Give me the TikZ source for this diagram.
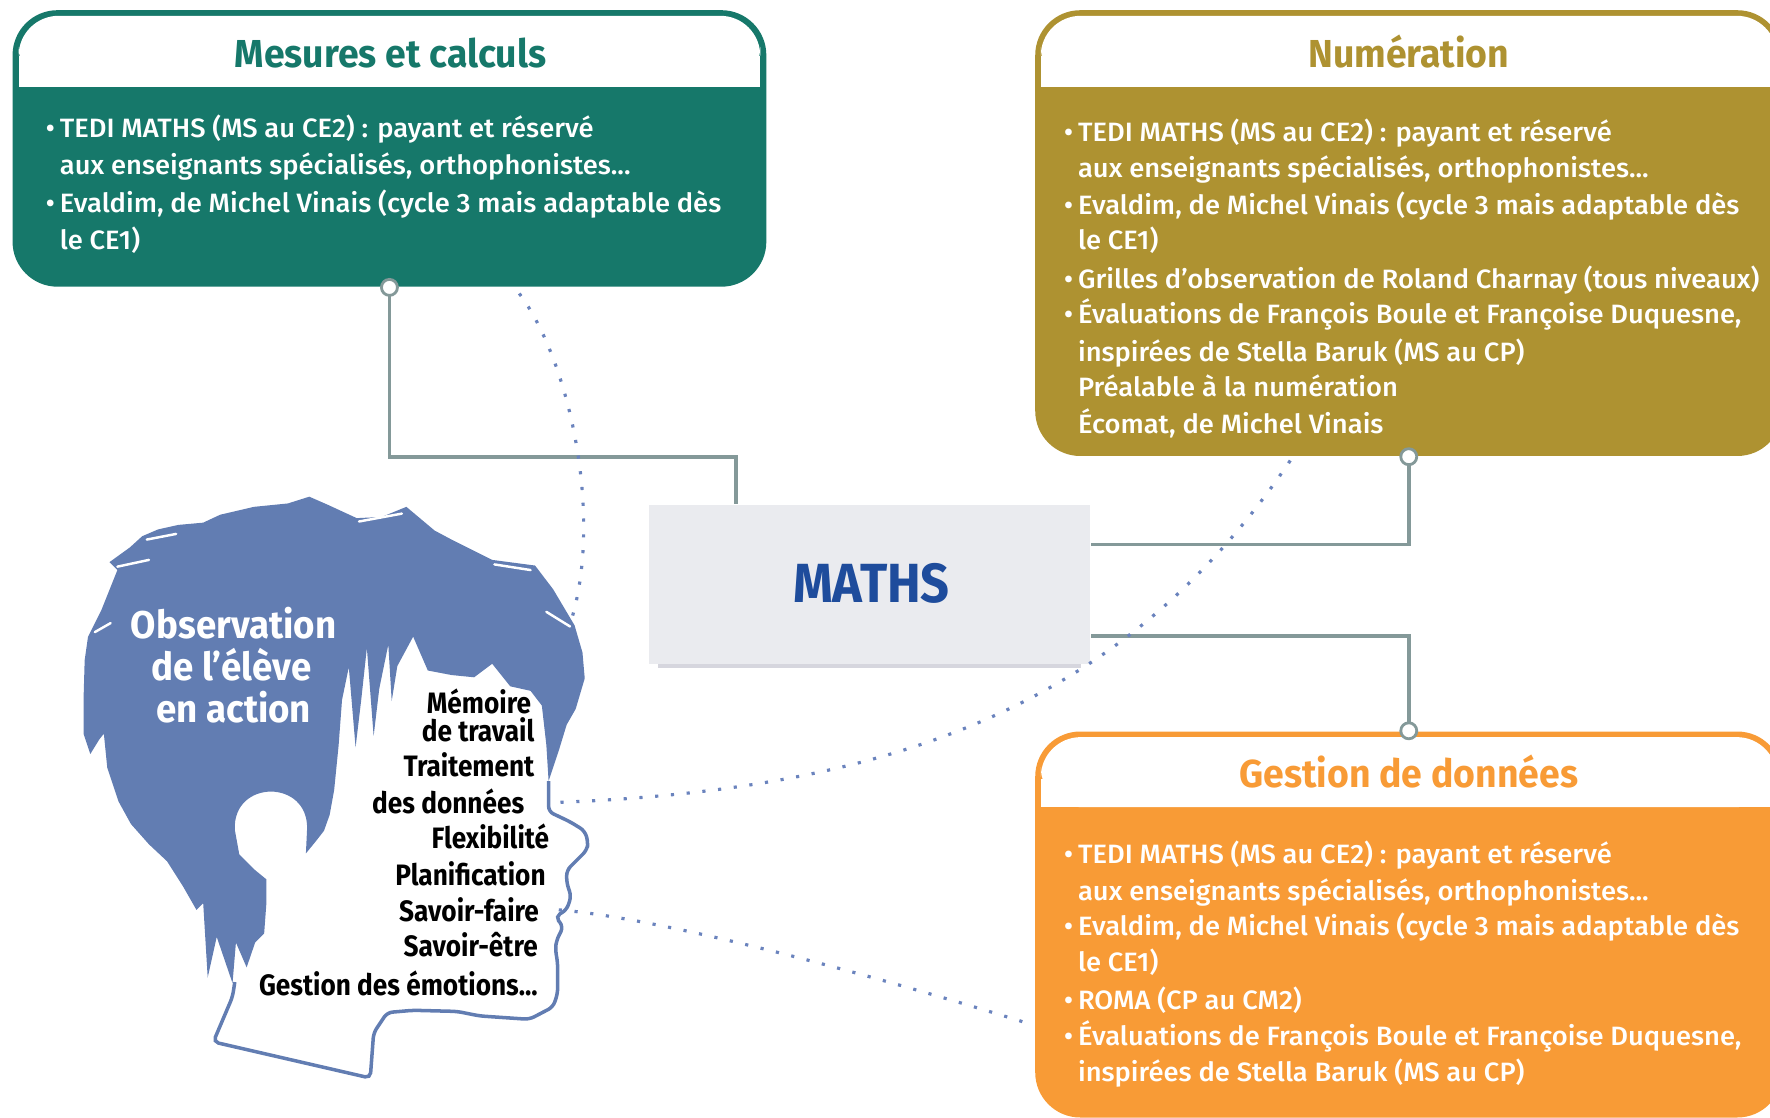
\documentclass[tikz,border=0pt]{standalone}
\usepackage{fontspec}
\setmainfont{Fira Sans}
\IfFontExistsTF{Fira Sans Medium}{\newfontfamily\medfnt{Fira Sans Medium}}{\newcommand\medfnt{}}
\usepackage{graphicx}
\usetikzlibrary{calc}
\definecolor{mgreen}{HTML}{16786A}
\definecolor{molive}{HTML}{AE9231}
\definecolor{morange}{HTML}{F89B36}
\definecolor{hblue}{HTML}{627DB2}
\definecolor{dblue}{HTML}{6A83BD}
\definecolor{cgray}{HTML}{849999}
\definecolor{mbg}{HTML}{EAEBEF}
\definecolor{mtxt}{HTML}{1E4C9C}
\definecolor{mshadow}{HTML}{D6D6DE}
\newlength\reflen
\newcommand\bodyfnt{\medfnt\fontsize{7.55}{9}\selectfont}
\newcommand\titlefnt{\fontsize{11.1}{13}\selectfont\bfseries}
\newcommand\mathsfnt{\fontsize{15.7}{18}\selectfont\bfseries}
\newcommand\obsfnt{\fontsize{11}{13}\selectfont\bfseries}
\newcommand\facefnt{\fontsize{8.4}{10}\selectfont\bfseries}
\newcommand\bi[1]{\makebox[0.14cm][l]{\textbullet}\scalebox{\bsc}[1]{#1}}
\newcommand\bc[1]{\hspace*{0.14cm}\scalebox{\bsc}[1]{#1}}
\begin{document}
\settowidth\reflen{\bodyfnt TEDI MATHS (MS au CE2) : payant et réservé}%
\pgfmathsetmacro\bsc{5.34cm/\reflen}%
\settowidth\reflen{\titlefnt Mesures et calculs}%
\pgfmathsetmacro\tsc{3.115cm/\reflen}%
\settowidth\reflen{\mathsfnt MATHS}%
\pgfmathsetmacro\msc{1.569cm/\reflen}%
\settowidth\reflen{\obsfnt Observation}%
\pgfmathsetmacro\osc{2.054cm/\reflen}%
\settowidth\reflen{\facefnt Gestion des émotions...}%
\pgfmathsetmacro\fsc{2.788cm/\reflen}%
\begin{tikzpicture}[x=0.011288cm,y=-0.011288cm,
 conn/.style={draw=cgray,line width=1pt},
 pinc/.style={circle,draw=cgray,fill=white,line width=0.8pt,minimum size=0.16cm,inner sep=0pt},
 dotline/.style={draw=dblue,line width=0.9pt,dash pattern=on 0.9pt off 3.6pt},
 blinestyle/.style={anchor=base west,inner sep=0pt,text=white,font=\bodyfnt},
 ttlstyle/.style={anchor=base,inner sep=0pt,font=\titlefnt},
 facetxt/.style={anchor=base east,inner sep=0pt,text=black,font=\facefnt},
 obstxt/.style={anchor=base,inner sep=0pt,text=white,font=\obsfnt},
 streak/.style={draw=white,line width=0.7pt,line cap=round},
 bigbox/.style={rectangle,rounded corners=0.45cm,inner sep=0pt}]
\useasboundingbox (0,0) rectangle (1568,990.4);

% central box
\fill[mshadow] (583,586) rectangle (958,592);
\node[rectangle,fill=mbg,minimum width=4.414cm,minimum height=1.592cm,inner sep=0pt] (maths) at (770.5,517.5) {};
\node[anchor=base,inner sep=0pt,text=mtxt,font=\mathsfnt] (mathst) at (772,534) {\scalebox{\msc}[1]{MATHS}};

% boxes
\node[bigbox,fill=mgreen,minimum width=7.540cm,minimum height=2.766cm] (mes) at (345,131.5) {};
\fill[white,rounded corners=0.4cm] (16.5,14) rectangle (673.5,77);
\fill[white] (16.5,50) rectangle (673.5,77);
\node[bigbox,fill=molive,minimum width=7.473cm,minimum height=4.459cm] (num) at (1248,206.5) {};
\fill[white,rounded corners=0.4cm] (922,14) rectangle (1574,77);
\fill[white] (922,50) rectangle (1574,77);
\node[bigbox,fill=morange,minimum width=7.473cm,minimum height=3.861cm] (ges) at (1248,819) {};
\fill[white,rounded corners=0.4cm] (922,653) rectangle (1574,715);
\fill[white] (922,690) rectangle (1574,715);

% connectors
\coordinate (mbend) at (652,405);
\coordinate (mr1) at ($(maths.north east)+(0,36)$);
\coordinate (mr2) at ($(maths.south east)+(0,-25)$);
\draw[conn] (mes.south) |- (mbend) -- (mbend |- maths.north);
\draw[conn] (num.south) |- (mr1);
\draw[conn] (ges.north) |- (mr2);
\node[pinc] (p1) at (mes.south) {};
\node[pinc] (p2) at (num.south) {};
\node[pinc] (p3) at (ges.north) {};

% titles
\node[ttlstyle,text=mgreen] (mest) at (346,60) {\scalebox{\tsc}[1]{Mesures et calculs}};
\node[ttlstyle,text=molive] (numt) at (1248,60) {\scalebox{\tsc}[1]{Numération}};
\node[ttlstyle,text=morange] (gest) at (1248,698) {\scalebox{\tsc}[1]{Gestion de données}};

% body: Mesures
\node[blinestyle] (m1) at (40,122) {\bi{TEDI MATHS (MS au CE2) : payant et réservé}};
\node[blinestyle] (m2) at (40,155) {\bc{aux enseignants spécialisés, orthophonistes...}};
\node[blinestyle] (m3) at (40,188) {\bi{Evaldim, de Michel Vinais (cycle 3 mais adaptable dès}};
\node[blinestyle] (m4) at (40,221) {\bc{le CE1)}};
% body: Numeration
\node[blinestyle] (n1) at (942,125) {\bi{TEDI MATHS (MS au CE2) : payant et réservé}};
\node[blinestyle] (n2) at (942,157) {\bc{aux enseignants spécialisés, orthophonistes...}};
\node[blinestyle] (n3) at (942,190) {\bi{Evaldim, de Michel Vinais (cycle 3 mais adaptable dès}};
\node[blinestyle] (n4) at (942,221) {\bc{le CE1)}};
\node[blinestyle] (n5) at (942,256) {\bi{Grilles d’observation de Roland Charnay (tous niveaux)}};
\node[blinestyle] (n6) at (942,287) {\bi{Évaluations de François Boule et Françoise Duquesne,}};
\node[blinestyle] (n7) at (942,320) {\bc{inspirées de Stella Baruk (MS au CP)}};
\node[blinestyle] (n8) at (942,351) {\bc{Préalable à la numération}};
\node[blinestyle] (n9) at (942,384) {\bc{Écomat, de Michel Vinais}};
% body: Gestion
\node[blinestyle] (g1) at (942,765) {\bi{TEDI MATHS (MS au CE2) : payant et réservé}};
\node[blinestyle] (g2) at (942,798) {\bc{aux enseignants spécialisés, orthophonistes...}};
\node[blinestyle] (g3) at (942,829) {\bi{Evaldim, de Michel Vinais (cycle 3 mais adaptable dès}};
\node[blinestyle] (g4) at (942,861) {\bc{le CE1)}};
\node[blinestyle] (g5) at (942,894) {\bi{ROMA (CP au CM2)}};
\node[blinestyle] (g6) at (942,926) {\bi{Évaluations de François Boule et Françoise Duquesne,}};
\node[blinestyle] (g7) at (942,958) {\bc{inspirées de Stella Baruk (MS au CP)}};

% head: hair
\fill[hblue] (78,564) -- (75,585) -- (74,620) -- (74,650) -- (80,668) -- (88,655) -- (92,650)
  -- (95,680) -- (105,710) -- (116,730) -- (132,748) -- (148,763) -- (162,785)
  -- (174,806) -- (180,800) -- (184,866) -- (192,830) -- (206,871) -- (209,835)
  -- (218.5,857) -- (226,835) -- (234,827) -- (236,800) -- (236,779) -- (225,770)
  -- (212,757) -- (208,735) .. controls (206,690) and (274,690) .. (272,735)
  -- (271,756) -- (280,745) -- (287,736) -- (292,722) -- (296,700) -- (300,660)
  -- (303,620) -- (309,591) -- (315,662) -- (320,620) -- (325,574) -- (331,652)
  -- (336,610) -- (344,571) -- (347,621) -- (352,590) -- (366,564) -- (379,594)
  -- (400,598) -- (420,600) -- (436,588) -- (452,608) -- (470,612) -- (480,625)
  -- (484,660) -- (486,692) -- (495,665) -- (502,642) -- (510,628) -- (518,601)
  -- (516,578) -- (509,554) -- (490,522) -- (474,501) -- (436,496) -- (400,478)
  -- (385,470) -- (360,449) -- (338,458) -- (316,459) -- (290,447) -- (274,440)
  -- (255,446) -- (225,449) -- (195,456) -- (180,463) -- (158,465) -- (140,469)
  -- (126,475) -- (115,485) -- (97,498) -- (104,505) -- (98,520) -- (90,540) -- cycle;
% hair strand gaps
\draw[streak] (104,502) -- (132,496);
\draw[streak] (130,478) -- (156,473);
\draw[streak] (318,462) -- (356,455);
\draw[streak] (438,500) -- (470,505);
\draw[streak] (484,542) -- (505,555);
\draw[streak] (84,560) -- (98,552);
% head: face outline
\draw[hblue,line width=1pt,rounded corners=1.5pt] (486,692) -- (486,719) -- (505,728) -- (518,736)
  -- (521,746) -- (520,753) -- (502,771) -- (502,782) -- (506,794) -- (502,806)
  -- (492,812) -- (499,821) -- (493,833) -- (492,841) -- (494,853) -- (494,880)
  -- (490,892) -- (469,903) -- (425,900) -- (405,896) -- (366,895) -- (343,897)
  -- (331,915) -- (328,955) -- (189,923) -- (206,883) -- (208,870);

% head texts
\node[obstxt] (o1) at (207,566) {\scalebox{\osc}[1]{Observation}};
\node[obstxt] (o2) at (205,603) {\scalebox{\osc}[1]{de l’élève}};
\node[obstxt] (o3) at (207,640) {\scalebox{\osc}[1]{en action}};
\node[facetxt] (f1) at (471,632) {\scalebox{\fsc}[1]{Mémoire}};
\node[facetxt] (f2) at (474,657) {\scalebox{\fsc}[1]{de travail}};
\node[facetxt] (f3) at (474,688) {\scalebox{\fsc}[1]{Traitement}};
\node[facetxt] (f4) at (465,721) {\scalebox{\fsc}[1]{des données}};
\node[facetxt] (f5) at (487,752) {\scalebox{\fsc}[1]{Flexibilité}};
\node[facetxt] (f6) at (484,784) {\scalebox{\fsc}[1]{Planification}};
\node[facetxt] (f7) at (478,816) {\scalebox{\fsc}[1]{Savoir-faire}};
\node[facetxt] (f8) at (477,847) {\scalebox{\fsc}[1]{Savoir-être}};
\node[facetxt] (f9) at (477,882) {\scalebox{\fsc}[1]{Gestion des émotions...}};

% dotted links
\coordinate (d1a) at (460,260);
\coordinate (d1b) at (505,553);
\coordinate (d2a) at (1143,408);
\coordinate (d2b) at (489,711);
\coordinate (d3a) at (495,806);
\coordinate (d3b) at (912,907);
\draw[dotline] (d1a) .. controls (505,320) and (535,460) .. (d1b);
\draw[dotline] (d2a) .. controls (1000,620) and (800,700) .. (d2b);
\draw[dotline] (d3a) .. controls (600,815) and (800,872) .. (d3b);
\end{tikzpicture}
\end{document}
